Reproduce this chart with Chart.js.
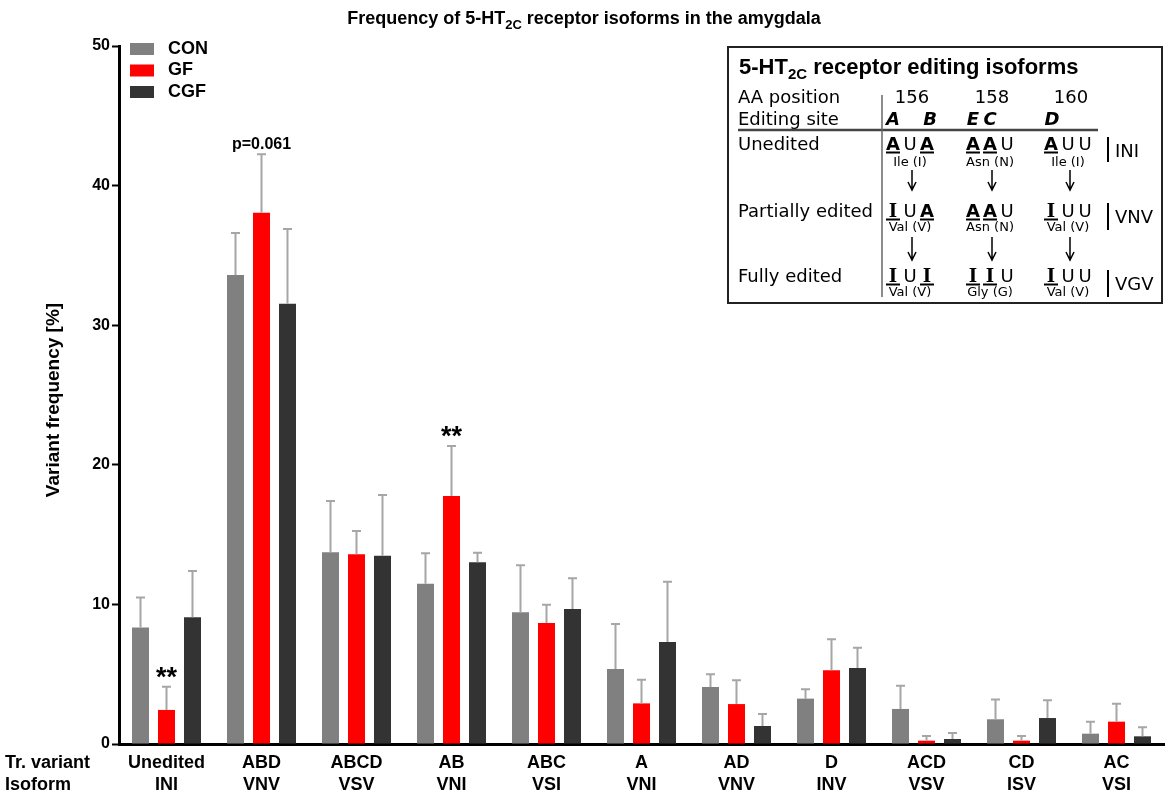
<!DOCTYPE html>
<html>
<head>
<meta charset="utf-8">
<title>5-HT2C isoforms in the amygdala</title>
<script src="https://cdn.jsdelivr.net/npm/chart.js@4.4.1/dist/chart.umd.min.js"></script>
<style>
  html, body { margin: 0; padding: 0; background: #fff; }
  #wrap { width: 1166px; height: 800px; }
</style>
</head>
<body>
<div id="wrap"><canvas id="isoformChart" width="1166" height="800"></canvas></div>
<script>
// Data (variant frequency in %, mean and SEM)
const variants = ['Unedited', 'ABD', 'ABCD', 'AB', 'ABC', 'A', 'AD', 'D', 'ACD', 'CD', 'AC'];
const isoforms = ['INI', 'VNV', 'VSV', 'VNI', 'VSI', 'VNI', 'VNV', 'INV', 'VSV', 'ISV', 'VSI'];
const groups = ['CON', 'GF', 'CGF'];

const conMean = [8.35, 33.6, 13.73, 11.48, 9.43, 5.37, 4.08, 3.25, 2.51, 1.77, 0.74];
const conSem  = [2.15, 3.0, 3.67, 2.18, 3.37, 3.23, 0.92, 0.67, 1.67, 1.41, 0.86];
const gfMean  = [2.44, 38.06, 13.6, 17.76, 8.67, 2.91, 2.86, 5.28, 0.24, 0.24, 1.6];
const gfSem   = [1.66, 4.18, 1.66, 3.59, 1.31, 1.69, 1.7, 2.22, 0.33, 0.33, 1.29];
const cgfMean = [9.08, 31.54, 13.49, 13.02, 9.67, 7.3, 1.29, 5.44, 0.36, 1.86, 0.55];
const cgfSem  = [3.32, 5.36, 4.35, 0.68, 2.2, 4.32, 0.86, 1.46, 0.43, 1.27, 0.65];

const yTicks = [0, 10, 20, 30, 40, 50];

// significance marks: category index, dataset index, text
const marks = [
  { cat: 0, ds: 1, text: '**' },
  { cat: 1, ds: 1, text: 'p=0.061' },
  { cat: 3, ds: 1, text: '**' },
];

const SANS = '"Liberation Sans", Arial, sans-serif';
const DEJA = '"DejaVu Sans", Verdana, sans-serif';
const SERIF = '"DejaVu Serif", serif';

function drawRich(ctx, parts, x, y, align) {
  // parts: [text, isSub, font]
  const total = parts.reduce((w, p) => {
    ctx.font = p[2];
    return w + ctx.measureText(p[0]).width;
  }, 0);
  let cx = align === 'center' ? x - total / 2 : x;
  ctx.textAlign = 'left';
  ctx.textBaseline = 'alphabetic';
  parts.forEach(p => {
    ctx.font = p[2];
    ctx.fillText(p[0], cx, y + (p[1] ? 5 : 0));
    cx += ctx.measureText(p[0]).width;
  });
}

const errorBars = {
  id: 'errorBars',
  afterDatasetsDraw(chart) {
    const { ctx } = chart;
    const y = chart.scales.y;
    ctx.save();
    ctx.strokeStyle = '#a6a6a6';
    ctx.lineWidth = 2;
    chart.data.datasets.forEach((ds, di) => {
      chart.getDatasetMeta(di).data.forEach((bar, i) => {
        const top = y.getPixelForValue(ds.data[i] + ds.sem[i]);
        ctx.beginPath();
        ctx.moveTo(bar.x, bar.y);
        ctx.lineTo(bar.x, top);
        ctx.moveTo(bar.x - 4.5, top);
        ctx.lineTo(bar.x + 4.5, top);
        ctx.stroke();
      });
    });
    // significance text
    ctx.fillStyle = '#000';
    ctx.textAlign = 'center';
    marks.forEach(m => {
      const ds = chart.data.datasets[m.ds];
      const bar = chart.getDatasetMeta(m.ds).data[m.cat];
      const top = y.getPixelForValue(ds.data[m.cat] + ds.sem[m.cat]);
      if (m.text === '**') {
        ctx.font = 'bold 27px ' + SANS;
        ctx.textBaseline = 'alphabetic';
        ctx.fillText(m.text, bar.x, top - 1);
      } else {
        ctx.font = 'bold 16px ' + SANS;
        ctx.textBaseline = 'middle';
        ctx.fillText(m.text, bar.x, top - 10);
      }
    });
    ctx.restore();
  }
};

const decorations = {
  id: 'decorations',
  afterDraw(chart) {
    const { ctx } = chart;
    const x = chart.scales.x;
    ctx.save();
    ctx.fillStyle = '#000';

    // main title
    drawRich(ctx, [
      ['Frequency of 5-HT', false, 'bold 18px ' + SANS],
      ['2C', true, 'bold 13px ' + SANS],
      [' receptor isoforms in the amygdala', false, 'bold 18px ' + SANS],
    ], 584, 24, 'center');

    // y axis title
    ctx.save();
    ctx.translate(54, 400);
    ctx.rotate(-Math.PI / 2);
    ctx.font = 'bold 19px ' + SANS;
    ctx.textAlign = 'center';
    ctx.textBaseline = 'middle';
    ctx.fillText('Variant frequency [%]', 0, 0);
    ctx.restore();

    // category labels
    ctx.font = 'bold 18px ' + SANS;
    ctx.textBaseline = 'middle';
    ctx.textAlign = 'left';
    ctx.fillText('Tr. variant', 5, 763);
    ctx.fillText('Isoform', 5, 785);
    ctx.textAlign = 'center';
    variants.forEach((v, i) => {
      const px = x.getPixelForValue(i);
      ctx.fillText(v, px, 763);
      ctx.fillText(isoforms[i], px, 785);
    });

    // legend
    chart.data.datasets.forEach((ds, i) => {
      const cy = 49 + i * 21.5;
      ctx.fillStyle = ds.backgroundColor;
      ctx.fillRect(130, cy - 6, 24, 12);
      ctx.fillStyle = '#000';
      ctx.textAlign = 'left';
      ctx.fillText(ds.label, 168, cy);
    });

    drawInset(ctx);
    ctx.restore();
  }
};

function drawCodon(ctx, letters, cx, baseline) {
  const offs = [-17, 0, 17];
  ctx.textAlign = 'center';
  ctx.textBaseline = 'alphabetic';
  letters.split('').forEach((ch, k) => {
    const lx = cx + offs[k];
    if (ch === 'U') ctx.font = '18px ' + DEJA;
    else if (ch === 'A') ctx.font = 'bold 18px ' + DEJA;
    else ctx.font = 'bold 18px ' + SERIF;
    ctx.fillText(ch, lx, baseline);
    if (ch !== 'U') ctx.fillRect(lx - 7, baseline + 1.5, 14, 2);
  });
}

function drawArrow(ctx, ax, y1, y2) {
  ctx.beginPath();
  ctx.moveTo(ax, y1);
  ctx.lineTo(ax, y2);
  ctx.moveTo(ax - 4, y2 - 8);
  ctx.lineTo(ax, y2);
  ctx.lineTo(ax + 4, y2 - 8);
  ctx.stroke();
}

function drawInset(ctx) {
  ctx.save();
  ctx.fillStyle = '#fff';
  ctx.fillRect(728, 47, 434, 256);
  ctx.strokeStyle = '#222';
  ctx.lineWidth = 2;
  ctx.strokeRect(728, 47, 434, 256);
  ctx.fillStyle = '#000';

  drawRich(ctx, [
    ['5-HT', false, 'bold 22px ' + SANS],
    ['2C', true, 'bold 15px ' + SANS],
    [' receptor editing isoforms', false, 'bold 22px ' + SANS],
  ], 739, 74, 'left');

  ctx.font = '18px ' + DEJA;
  ctx.textAlign = 'left';
  ctx.textBaseline = 'alphabetic';
  ctx.fillText('AA position', 738, 103);
  ctx.fillText('Editing site', 738, 125);
  ctx.fillText('Unedited', 738, 150);
  ctx.fillText('Partially edited', 738, 217);
  ctx.fillText('Fully edited', 738, 282);

  ctx.textAlign = 'center';
  ctx.fillText('156', 912, 103);
  ctx.fillText('158', 992, 103);
  ctx.fillText('160', 1071, 103);

  ctx.font = 'bold italic 18px ' + DEJA;
  ctx.fillText('A', 893, 125);
  ctx.fillText('B', 930, 125);
  ctx.fillText('E', 973, 125);
  ctx.fillText('C', 990, 125);
  ctx.fillText('D', 1052, 125);

  // rules
  ctx.strokeStyle = '#444';
  ctx.lineWidth = 2.5;
  ctx.beginPath();
  ctx.moveTo(738, 130);
  ctx.lineTo(1098, 130);
  ctx.stroke();
  ctx.strokeStyle = '#666';
  ctx.lineWidth = 1.5;
  ctx.beginPath();
  ctx.moveTo(882, 95);
  ctx.lineTo(882, 297);
  ctx.stroke();

  const cols = [910, 990, 1068];
  const rows = [
    { codons: ['AUA', 'AAU', 'AUU'], aa: ['Ile (I)', 'Asn (N)', 'Ile (I)'], base: 150, aaBase: 166, iso: 'INI', bar: [137, 162], isoBase: 157 },
    { codons: ['IUA', 'AAU', 'IUU'], aa: ['Val (V)', 'Asn (N)', 'Val (V)'], base: 217, aaBase: 231, iso: 'VNV', bar: [203, 230], isoBase: 223 },
    { codons: ['IUI', 'IIU', 'IUU'], aa: ['Val (V)', 'Gly (G)', 'Val (V)'], base: 282, aaBase: 296, iso: 'VGV', bar: [270, 297], isoBase: 290 },
  ];
  rows.forEach(r => {
    r.codons.forEach((c, k) => drawCodon(ctx, c, cols[k], r.base));
    ctx.font = '13px ' + DEJA;
    ctx.textAlign = 'center';
    r.aa.forEach((a, k) => ctx.fillText(a, cols[k], r.aaBase));
    ctx.fillRect(1107, r.bar[0], 2, r.bar[1] - r.bar[0]);
    ctx.font = '18px ' + DEJA;
    ctx.textAlign = 'left';
    ctx.fillText(r.iso, 1115, r.isoBase);
  });

  ctx.strokeStyle = '#000';
  ctx.lineWidth = 1.5;
  [912, 992, 1070].forEach(ax => {
    drawArrow(ctx, ax, 170, 190);
    drawArrow(ctx, ax, 237, 260);
  });
  ctx.restore();
}

const ctx = document.getElementById('isoformChart');
new Chart(ctx, {
  type: 'bar',
  data: {
    labels: variants,
    datasets: [
      { label: groups[0], data: conMean, sem: conSem, backgroundColor: '#808080' },
      { label: groups[1], data: gfMean, sem: gfSem, backgroundColor: '#ff0000' },
      { label: groups[2], data: cgfMean, sem: cgfSem, backgroundColor: '#333333' },
    ]
  },
  options: {
    responsive: false,
    animation: false,
    devicePixelRatio: 1,
    categoryPercentage: 0.821,
    barPercentage: 0.654,
    layout: { padding: { top: 46, right: 2, left: 0, bottom: 0 } },
    plugins: {
      legend: { display: false },
      tooltip: { enabled: false },
      title: { display: false }
    },
    scales: {
      x: {
        grid: { display: false },
        border: { display: true, color: '#000', width: 3 },
        ticks: { display: false },
        afterFit: (s) => { s.height = 56; }
      },
      y: {
        min: 0,
        max: 50,
        afterBuildTicks: (s) => { s.ticks = yTicks.map(v => ({ value: v })); },
        grid: { drawOnChartArea: false, drawTicks: true, tickLength: 7, tickWidth: 2, tickColor: '#000' },
        border: { color: '#000', width: 3 },
        ticks: { color: '#000', padding: 2, font: { family: SANS, size: 16, weight: 'bold' } },
        afterFit: (s) => { s.width = 119; }
      }
    }
  },
  plugins: [errorBars, decorations]
});
</script>
</body>
</html>
